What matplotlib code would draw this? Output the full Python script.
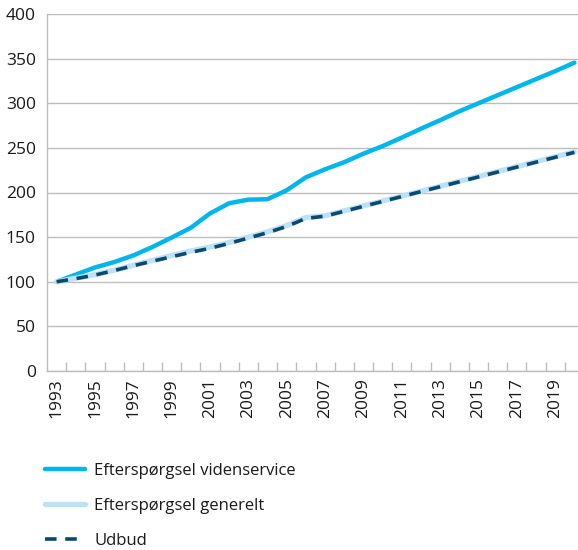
import matplotlib
matplotlib.use("Agg")
import matplotlib.pyplot as plt
import numpy as np

years = list(range(1993, 2021))
videnservice = [100, 108, 116, 122, 129.5, 139, 149.5, 160.5, 176.5, 188, 192, 192.5, 202.5,
                217, 226, 234, 243.5, 252, 261.5, 271.5, 281, 291, 300, 309, 318, 327, 336, 345.5]
generelt = [100, 104, 108, 113, 118.5, 124, 129.5, 134.5, 139, 144, 150, 156, 163,
            172, 174, 179.5, 185, 190.5, 196, 201.5, 207, 212.5, 218, 223.5, 229, 234.5, 240, 245.5]
udbud = [100, 103.5, 107.5, 112.5, 118, 123, 128, 133, 137.5, 143, 149, 155, 162,
         171, 173.5, 179, 184.5, 190, 195.5, 201, 206.5, 212, 217.5, 223, 228.5, 234, 239.5, 245]
labels = ["Efterspørgsel videnservice", "Efterspørgsel generelt", "Udbud"]
y_ticks = [0, 50, 100, 150, 200, 250, 300, 350, 400]

c_viden = "#00B6EB"
c_gen = "#BDE2F6"
c_udbud = "#0B4A6F"
c_grid = "#BDBDBD"
c_text = "#1A1A1A"

plt.rcParams["font.family"] = ["Open Sans", "DejaVu Sans"]

W, H = 578, 550
fig = plt.figure(figsize=(W / 100, H / 100), dpi=100)
ax = fig.add_axes([47 / W, 1 - 371 / H, 537 / W, 357 / H])

x = np.arange(len(years))
ax.plot(x, videnservice, color=c_viden, lw=3.2, solid_capstyle="round",
        solid_joinstyle="round", label=labels[0], zorder=3)
ax.plot(x, generelt, color=c_gen, lw=3.8, solid_capstyle="round",
        solid_joinstyle="round", label=labels[1], zorder=3)
ax.plot(x, udbud, color=c_udbud, lw=2.6, linestyle=(0, (3.2, 2.4)),
        dash_capstyle="butt", label=labels[2], zorder=4)

ax.set_xlim(-0.5, len(years) - 0.5)
ax.set_ylim(0, 400)
ax.set_yticks(y_ticks)
ax.yaxis.grid(True, color=c_grid, lw=1.0)
ax.set_axisbelow(True)
ax.tick_params(axis="y", length=0, pad=8, labelsize=12.5, labelcolor=c_text)

# category boundaries carry the tick marks, every second year is labelled
ax.set_xticks(np.arange(0.5, len(years) - 0.5, 1.0))
ax.set_xticklabels([])
ax.tick_params(axis="x", which="major", direction="in", length=6.5,
               width=1.0, color=c_grid)
ax.set_xticks(x[::2], minor=True)
ax.set_xticklabels([str(y) for y in years[::2]], minor=True, rotation=90,
                   fontsize=12.5, color=c_text)
ax.tick_params(axis="x", which="minor", length=0, pad=5)

for side in ("top", "right"):
    ax.spines[side].set_visible(False)
for side in ("left", "bottom"):
    ax.spines[side].set_color(c_grid)
    ax.spines[side].set_linewidth(1.0)

fig.legend(loc="upper left", bbox_to_anchor=(45 / W, 1 - 463 / H), frameon=False,
           borderpad=0, borderaxespad=0, fontsize=12, handlelength=2.4,
           handletextpad=0.55, labelspacing=1.15, labelcolor=c_text)

fig.savefig("out.png", dpi=100)
